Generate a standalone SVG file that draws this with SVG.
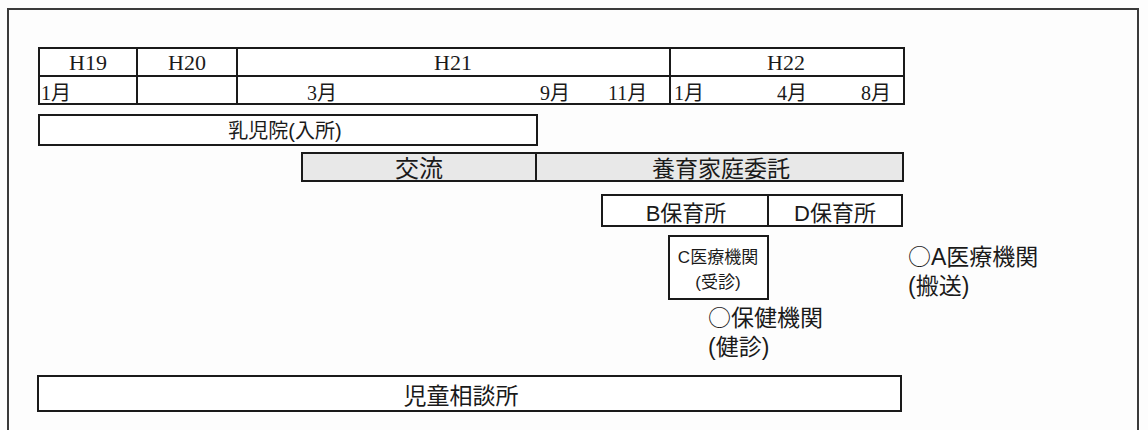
<svg xmlns="http://www.w3.org/2000/svg" width="1148" height="430" viewBox="0 0 1148 430">
<style>
.bg{fill:#fdfdfd}
.frame{fill:none;stroke:#3a3a3a;stroke-width:2}
.box{fill:#ffffff;stroke:#1a1a1a;stroke-width:2}
.shade{fill:#e8e8e8;stroke:#1a1a1a;stroke-width:2}
.ln{stroke:#1a1a1a;stroke-width:2;fill:none}
.serif{font-family:"Liberation Serif","Noto Sans CJK JP",serif;fill:#1a1a1a}
.sans{font-family:"Liberation Sans","Noto Sans CJK JP",sans-serif;fill:#1a1a1a}
.cjk{font-family:"Noto Sans CJK JP",sans-serif}
.c{text-anchor:middle}
</style>
<rect x="0" y="0" width="1148" height="430" class="bg"/>
<rect x="8" y="9" width="1130" height="440" class="frame"/>
<g id="timeline">
<rect x="39" y="48" width="865" height="56" class="box"/>
<line x1="39" y1="76" x2="904" y2="76" class="ln"/>
<line x1="137" y1="48" x2="137" y2="104" class="ln"/>
<line x1="237" y1="48" x2="237" y2="104" class="ln"/>
<line x1="670" y1="48" x2="670" y2="104" class="ln"/>
<text x="88" y="70" font-size="22" class="serif c">H19</text>
<text x="187" y="70" font-size="22" class="serif c">H20</text>
<text x="453" y="70" font-size="22" class="serif c">H21</text>
<text x="786" y="70" font-size="22" class="serif c">H22</text>
<text x="41" y="100" font-size="20" class="serif">1月</text>
<text x="307" y="100" font-size="20" class="serif">3月</text>
<text x="540" y="100" font-size="20" class="serif">9月</text>
<text x="608" y="100" font-size="20" class="serif">11月</text>
<text x="674" y="100" font-size="20" class="serif">1月</text>
<text x="777" y="100" font-size="20" class="serif">4月</text>
<text x="861" y="100" font-size="20" class="serif">8月</text>
</g>
<g id="nyujiin">
<rect x="39" y="115" width="498" height="30" class="box"/>
<text x="285" y="138" font-size="20" class="sans c">乳児院(入所)</text>
</g>
<g id="koryu">
<rect x="302" y="153" width="234" height="28" class="shade"/>
<text x="419" y="177" font-size="24" class="sans c">交流</text>
</g>
<g id="yoiku">
<rect x="536" y="153" width="367" height="28" class="shade"/>
<text x="721" y="177" font-size="23" class="sans c">養育家庭委託</text>
</g>
<g id="b-hoikusho">
<rect x="602" y="195" width="166" height="31" class="box"/>
<text x="686" y="221" font-size="22" class="sans c">B保育所</text>
</g>
<g id="d-hoikusho">
<rect x="768" y="195" width="134" height="31" class="box"/>
<text x="835" y="221" font-size="22" class="sans c">D保育所</text>
</g>
<g id="c-iryo">
<rect x="669" y="236" width="99" height="63" class="box"/>
<text x="718" y="263" font-size="17" class="sans c">C医療機関</text>
<text x="718" y="288" font-size="17" class="sans c">(受診)</text>
</g>
<g id="a-iryo">
<text x="908" y="265" font-size="23" class="sans"><tspan class="cjk">○</tspan>A医療機関</text>
<text x="908" y="294" font-size="23" class="sans">(搬送)</text>
</g>
<g id="hoken">
<text x="708" y="326" font-size="23" class="sans"><tspan class="cjk">○</tspan>保健機関</text>
<text x="708" y="355" font-size="23" class="sans">(健診)</text>
</g>
<g id="jidosodan">
<rect x="38" y="376" width="863" height="35" class="box"/>
<text x="461" y="404" font-size="23" class="sans c">児童相談所</text>
</g>
<g id="connectors"></g>
</svg>
